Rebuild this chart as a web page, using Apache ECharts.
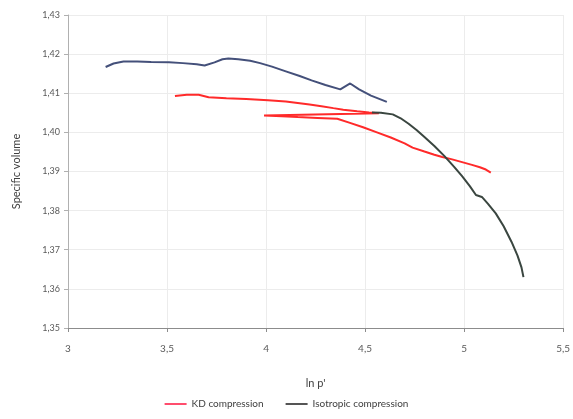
<!DOCTYPE html>
<html>
<head>
<meta charset="utf-8">
<script src="https://cdn.jsdelivr.net/npm/echarts@6/dist/echarts.min.js"></script>
<style>html,body{margin:0;padding:0;background:#fff;}#c{width:573px;height:419px;}</style>
</head>
<body>
<div id="c"></div>
<script>
const seriesNames = ["KD compression", "Isotropic compression"];
const xTicks = ["3", "3,5", "4", "4,5", "5", "5,5"];
const yTicks = ["1,35","1,36","1,37","1,38","1,39","1,40","1,41","1,42","1,43"];

const kdX = [3.54,3.60,3.66,3.71,3.80,3.90,4.01,4.10,4.16,4.22,4.28,4.34,4.39,4.46,4.52,4.57,
             3.99,4.08,4.16,4.26,4.36,4.42,4.49,4.56,4.63,4.70,4.74,4.80,4.85,4.89,4.94,4.99,5.04,5.08,5.11,5.135];
const kdY = [1.4093,1.4096,1.4096,1.4090,1.4087,1.4085,1.4082,1.4079,1.4075,1.4071,1.4067,1.4062,1.4058,1.4054,1.4051,1.4049,
             1.4043,1.4041,1.4039,1.4037,1.4035,1.4025,1.4013,1.4000,1.3987,1.3972,1.3961,1.3951,1.3943,1.3937,1.3931,1.3924,1.3917,1.3911,1.3905,1.3897];

const isoX1 = [3.19,3.23,3.28,3.35,3.42,3.51,3.58,3.65,3.69,3.74,3.78,3.81,3.86,3.92,3.97,4.03,4.10,4.17,4.23,4.30,4.375,4.425,4.47,4.53,4.61];
const isoY1 = [1.4167,1.4176,1.4181,1.4181,1.4180,1.4179,1.4177,1.4174,1.4171,1.4179,1.4187,1.4189,1.4187,1.4183,1.4177,1.4168,1.4156,1.4144,1.4133,1.4121,1.4110,1.4125,1.4110,1.4094,1.4078];

const isoX2 = [4.535,4.58,4.64,4.68,4.72,4.76,4.80,4.85,4.90,4.95,4.99,5.03,5.06,5.09,5.12,5.16,5.20,5.24,5.27,5.29,5.30];
const isoY2 = [1.4051,1.4050,1.4046,1.4036,1.4022,1.4006,1.3988,1.3965,1.3940,1.3912,1.3888,1.3862,1.3840,1.3835,1.3818,1.3793,1.3760,1.3720,1.3685,1.3655,1.3630];

const zip = (xs, ys) => xs.map((x, i) => [x, ys[i]]);
const font = "Lato, 'Open Sans', sans-serif";

const chart = echarts.init(document.getElementById('c'), null, {renderer: 'canvas'});
chart.setOption({
  animation: false,
  backgroundColor: '#ffffff',
  grid: {left: 68, right: 5, top: 15, bottom: 91, containLabel: false},
  legend: {
    bottom: 5, left: 'center',
    itemWidth: 22, itemHeight: 2, itemGap: 22,
    icon: 'rect',
    textStyle: {color: '#404040', fontSize: 10, fontFamily: font},
    data: seriesNames
  },
  xAxis: {
    type: 'value', min: 3, max: 5.5, interval: 0.5,
    name: "ln p'", nameLocation: 'middle', nameGap: 50,
    nameTextStyle: {color: '#404040', fontSize: 11, fontFamily: font},
    axisLine: {show: true, onZero: false, lineStyle: {color: '#8c8c8c', width: 1}},
    axisTick: {show: true, length: 4, lineStyle: {color: '#8c8c8c'}},
    axisLabel: {color: '#595959', fontSize: 10, fontFamily: font, margin: 16,
      formatter: v => xTicks[Math.round((v - 3) / 0.5)] ?? ''},
    splitLine: {show: true, lineStyle: {color: '#ececec', width: 1}}
  },
  yAxis: {
    type: 'value', min: 1.35, max: 1.43, interval: 0.01,
    name: 'Specific volume', nameLocation: 'middle', nameGap: 46,
    nameTextStyle: {color: '#404040', fontSize: 11, fontFamily: font},
    axisLine: {show: true, lineStyle: {color: '#b0b0b0', width: 1}},
    axisTick: {show: true, length: 4, inside: false, lineStyle: {color: '#b0b0b0'}},
    axisLabel: {color: '#595959', fontSize: 9, fontFamily: font, margin: 8,
      formatter: v => yTicks[Math.round((v - 1.35) / 0.01)] ?? ''},
    splitLine: {show: true, lineStyle: {color: '#ececec', width: 1}}
  },
  series: [
    {name: seriesNames[0], type: 'line', data: zip(kdX, kdY), showSymbol: false, symbol: 'none',
      lineStyle: {color: '#ff2a2a', width: 2}, itemStyle: {color: '#ff4d6d'}},
    {name: seriesNames[1], type: 'line', data: zip(isoX1, isoY1), showSymbol: false, symbol: 'none',
      lineStyle: {color: '#44507a', width: 2}, itemStyle: {color: '#555555'}},
    {name: seriesNames[1], type: 'line', data: zip(isoX2, isoY2), showSymbol: false, symbol: 'none',
      lineStyle: {color: '#3a4640', width: 2}, itemStyle: {color: '#555555'}}
  ]
});
</script>
</body>
</html>
